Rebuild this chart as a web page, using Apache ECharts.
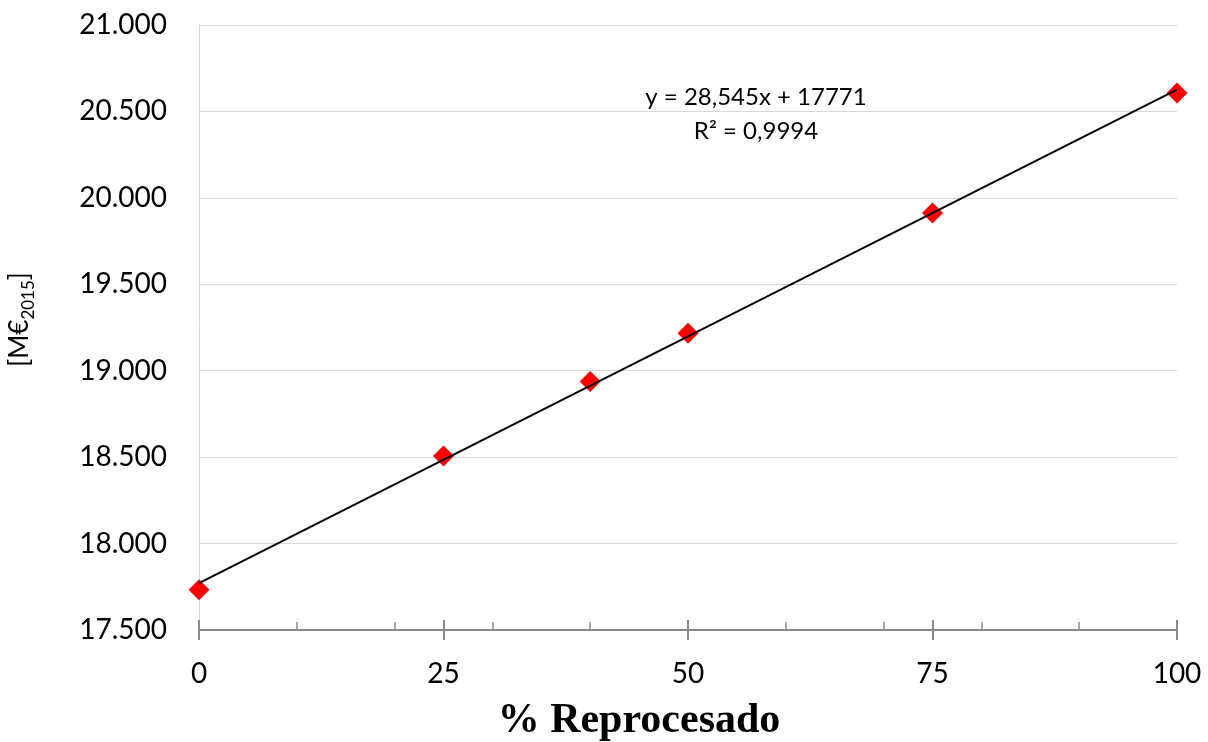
<!DOCTYPE html>
<html><head><meta charset="utf-8">
<script src="https://cdn.jsdelivr.net/npm/echarts@6/dist/echarts.min.js"></script>
<style>html,body{margin:0;padding:0;background:#fff}#c{width:1208px;height:742px}</style>
</head><body><div id="c"></div>
<script>
const xValues = [0, 25, 40, 50, 75, 100];
const yValues = [17733, 18507, 18938, 19217, 19912, 20607];
const trendX = [0, 100];
const trendY = [17771, 20626];
const eqText = 'y = 28,545x + 17771';
const r2Text = 'R² = 0,9994';
const xTitle = '% Reprocesado';

const chart = echarts.init(document.getElementById('c'));
const fmt = v => {
  const s = String(Math.round(v));
  return s.replace(/\B(?=(\d{3})+(?!\d))/g, '.');
};
const baseX = {type:'value', min:0, max:100, position:'bottom', splitLine:{show:false}};
chart.setOption({
  animation:false,
  backgroundColor:'#fff',
  grid:{left:199, right:31, top:25, bottom:112, containLabel:false, outerBoundsMode:'none'},
  xAxis:[
    Object.assign({}, baseX, {
      interval:25,
      axisLine:{show:true, lineStyle:{color:'#898989', width:2}},
      axisTick:{show:true, inside:false, length:10, lineStyle:{color:'#898989', width:2}},
      axisLabel:{show:true, margin:30, fontFamily:'Lato', fontSize:28, color:'#000'}
    }),
    Object.assign({}, baseX, {
      interval:10,
      axisLine:{show:false},
      axisTick:{show:true, inside:true, length:8, lineStyle:{color:'#898989', width:1.5}},
      axisLabel:{show:false}
    }),
    Object.assign({}, baseX, {
      interval:25,
      axisLine:{show:false},
      axisTick:{show:true, inside:true, length:10, lineStyle:{color:'#898989', width:2}},
      axisLabel:{show:false}
    })
  ],
  yAxis:{
    type:'value', min:17500, max:21000, interval:500,
    axisLine:{show:true, lineStyle:{color:'#d9d9d9', width:1}},
    axisTick:{show:false},
    splitLine:{show:true, lineStyle:{color:'#d9d9d9', width:1}},
    axisLabel:{margin:32, fontFamily:'Lato', fontSize:28, color:'#000', formatter:fmt},
    name:'{a|[M€}{b|2015}{a|]}',
    nameLocation:'middle', nameRotate:90, nameGap:162,
    nameTextStyle:{
      color:'#000',
      padding:[0,0,0,16],
      rich:{
        a:{fontFamily:'Lato', fontSize:26, color:'#000', lineHeight:34, verticalAlign:'middle'},
        b:{fontFamily:'Lato', fontSize:17, color:'#000', lineHeight:34, verticalAlign:'bottom'}
      }
    }
  },
  series:[
    {
      type:'scatter', xAxisIndex:0,
      data:xValues.map((x,i)=>[x, yValues[i]]),
      symbol:'diamond', symbolSize:21,
      itemStyle:{color:'#ff0000', opacity:1}, z:2
    },
    {
      type:'line', xAxisIndex:0,
      data:trendX.map((x,i)=>[x, trendY[i]]),
      symbol:'none', lineStyle:{color:'#000', width:2}, z:3
    }
  ],
  graphic:[
    {type:'text', position:[756, 97], style:{text:eqText, fontFamily:'Lato', fontSize:24, fill:'#000', textAlign:'center', textVerticalAlign:'middle'}},
    {type:'text', position:[756, 131], style:{text:r2Text, fontFamily:'Lato', fontSize:24, fill:'#000', textAlign:'center', textVerticalAlign:'middle'}},
    {type:'text', position:[639, 721], style:{text:xTitle, fontFamily:'Liberation Serif', fontWeight:'bold', fontSize:42, fill:'#000', textAlign:'center', textVerticalAlign:'middle'}}
  ]
});
</script></body></html>
